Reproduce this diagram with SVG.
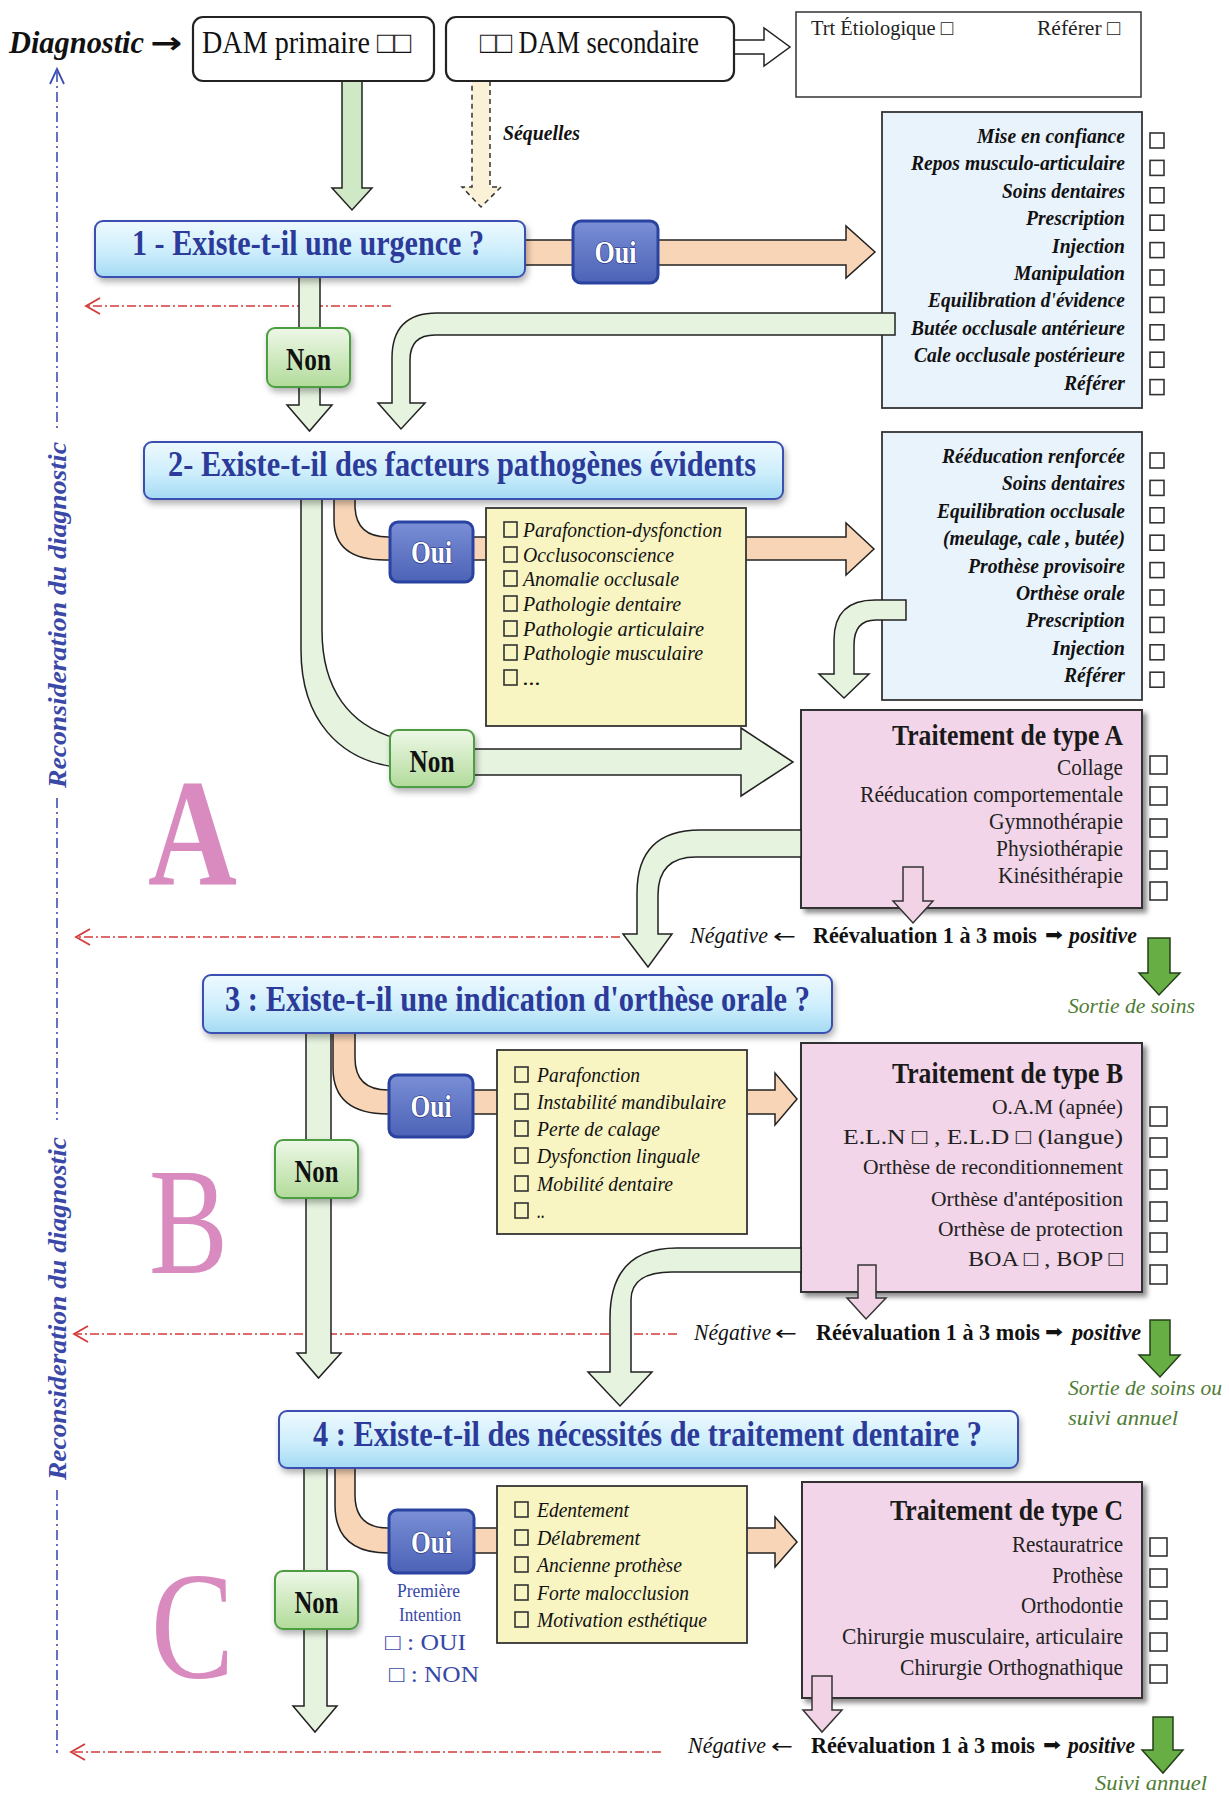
<svg xmlns="http://www.w3.org/2000/svg" width="1229" height="1796" viewBox="0 0 1229 1796">
<defs>
<linearGradient id="gq" x1="0" y1="0" x2="0" y2="1"><stop offset="0" stop-color="#eef9fe"/><stop offset="0.55" stop-color="#cdeefc"/><stop offset="1" stop-color="#a3daf3"/></linearGradient>
<linearGradient id="go" x1="0" y1="0" x2="0" y2="1"><stop offset="0" stop-color="#7a8fd6"/><stop offset="1" stop-color="#4c62b6"/></linearGradient>
<linearGradient id="gn" x1="0" y1="0" x2="0" y2="1"><stop offset="0" stop-color="#eef8e8"/><stop offset="1" stop-color="#b2db9a"/></linearGradient>
<filter id="sh" x="-10%" y="-20%" width="125%" height="160%"><feDropShadow dx="2" dy="4" stdDeviation="3" flood-color="#000" flood-opacity="0.3"/></filter>
<filter id="sh2" x="-5%" y="-5%" width="115%" height="115%"><feDropShadow dx="4" dy="4" stdDeviation="2.5" flood-color="#000" flood-opacity="0.45"/></filter>
</defs>
<style>
text{font-family:'Liberation Serif','Times New Roman',serif}
.q{font-size:35px;font-weight:bold;fill:#2c3a99}
.lb{font-size:21px;font-weight:bold;font-style:italic;text-anchor:end;fill:#111}
.yi{font-size:22px;font-style:italic;fill:#111}
.tt{font-size:30px;font-weight:bold;text-anchor:end;fill:#1a1a1a}
.ti{font-size:24px;text-anchor:end;fill:#222}
.tb{font-size:22px}
.cb{fill:none;stroke:#333;stroke-width:1.6}
.qb{fill:url(#gq);stroke:#3b4fb2;stroke-width:2}
.ob{fill:url(#go);stroke:#2a42a0;stroke-width:3}
.nb{fill:url(#gn);stroke:#4d9e42;stroke-width:2}
.ot{font-size:31px;font-weight:bold;fill:#fff;stroke:#1c2c7a;stroke-width:1.2;paint-order:stroke;text-anchor:middle}
.nt{font-size:31px;font-weight:bold;fill:#111;text-anchor:middle}
.ga{fill:#e6f3df;stroke:#222;stroke-width:1.5}
.oa{fill:#f9d5b7;stroke:#222;stroke-width:1.5}
.pa{fill:#f2d3e6;stroke:#333;stroke-width:1.5}
.da{fill:#67ae45;stroke:#24401a;stroke-width:1.5}
.red{fill:none;stroke:#d43a3a;stroke-width:1.6;stroke-dasharray:9 3 2 3}
.rh{fill:none;stroke:#d43a3a;stroke-width:1.8}
.blu{fill:none;stroke:#3c4fb5;stroke-width:1.6;stroke-dasharray:10 4 2 4}
.yb{fill:#f8f5c2;stroke:#333;stroke-width:1.8}
.bb{fill:#e9f3fc;stroke:#333;stroke-width:1.8}
.pb{fill:#f2d5e8;stroke:#333;stroke-width:2}
.re{font-size:23px;font-weight:bold;fill:#111}
.rp{font-size:23px;font-weight:bold;font-style:italic;fill:#111}
.ar{font-family:'DejaVu Sans',sans-serif;font-size:18px;fill:#111}
.la{font-family:'DejaVu Sans',sans-serif;font-size:20px;fill:#111}
.ng{font-size:23px;font-style:italic;fill:#111}
.so{font-size:22px;font-style:italic;fill:#4f7c35}
.big{font-size:152px;fill:#d98bc0}
.rc{font-size:25px;font-weight:bold;font-style:italic;fill:#3a48a8}
.wb{fill:#fff;stroke:#222;stroke-width:2.2}
.pi{font-size:19px;fill:#3848a8}
.po{font-size:23px;fill:#3848a8}
</style>

<g id="reconsideration">
<line class="blu" x1="57" y1="72" x2="57" y2="432"/>
<line class="blu" x1="57" y1="798" x2="57" y2="1120"/>
<line class="blu" x1="57" y1="1490" x2="57" y2="1753"/>
<polyline fill="none" stroke="#3c4fb5" stroke-width="1.8" points="50,84 57,69 64,84"/>
<text class="rc" x="66" y="788" transform="rotate(-90 66 788)" textLength="346" lengthAdjust="spacingAndGlyphs">Reconsideration du diagnostic</text>
<text class="rc" x="66" y="1480" transform="rotate(-90 66 1480)" textLength="343" lengthAdjust="spacingAndGlyphs">Reconsideration du diagnostic</text>
</g>

<g id="return-lines">
<line class="red" x1="391" y1="306" x2="88" y2="306"/><polyline class="rh" points="100,298 86,306 100,314"/>
<line class="red" x1="620" y1="937" x2="78" y2="937"/><polyline class="rh" points="90,929 76,937 90,945"/>
<line class="red" x1="677" y1="1334" x2="76" y2="1334"/><polyline class="rh" points="88,1326 74,1334 88,1342"/>
<line class="red" x1="661" y1="1752" x2="73" y2="1752"/><polyline class="rh" points="85,1744 71,1752 85,1760"/>
</g>

<g id="letters">
<text class="big" x="148" y="884" font-weight="bold" textLength="89" lengthAdjust="spacingAndGlyphs">A</text>
<text class="big" x="149" y="1273" textLength="79" lengthAdjust="spacingAndGlyphs">B</text>
<text class="big" x="151" y="1678" textLength="83" lengthAdjust="spacingAndGlyphs">C</text>
</g>

<g id="list-urgence">
<rect class="bb" x="882" y="112" width="260" height="296"/>
<text class="lb" x="1125" y="143" textLength="148" lengthAdjust="spacingAndGlyphs">Mise en confiance</text>
<text class="lb" x="1125" y="170.4" textLength="214" lengthAdjust="spacingAndGlyphs">Repos musculo-articulaire</text>
<text class="lb" x="1125" y="197.8" textLength="123" lengthAdjust="spacingAndGlyphs">Soins dentaires</text>
<text class="lb" x="1125" y="225.2" textLength="99" lengthAdjust="spacingAndGlyphs">Prescription</text>
<text class="lb" x="1125" y="252.6" textLength="73" lengthAdjust="spacingAndGlyphs">Injection</text>
<text class="lb" x="1125" y="280" textLength="111" lengthAdjust="spacingAndGlyphs">Manipulation</text>
<text class="lb" x="1125" y="307.4" textLength="197" lengthAdjust="spacingAndGlyphs">Equilibration d'évidence</text>
<text class="lb" x="1125" y="334.8" textLength="214" lengthAdjust="spacingAndGlyphs">Butée occlusale antérieure</text>
<text class="lb" x="1125" y="362.2" textLength="211" lengthAdjust="spacingAndGlyphs">Cale occlusale postérieure</text>
<text class="lb" x="1125" y="389.6" textLength="61" lengthAdjust="spacingAndGlyphs">Référer</text>
<rect class="cb" x="1150" y="133" width="14" height="15"/>
<rect class="cb" x="1150" y="160.4" width="14" height="15"/>
<rect class="cb" x="1150" y="187.8" width="14" height="15"/>
<rect class="cb" x="1150" y="215.2" width="14" height="15"/>
<rect class="cb" x="1150" y="242.6" width="14" height="15"/>
<rect class="cb" x="1150" y="270" width="14" height="15"/>
<rect class="cb" x="1150" y="297.4" width="14" height="15"/>
<rect class="cb" x="1150" y="324.8" width="14" height="15"/>
<rect class="cb" x="1150" y="352.2" width="14" height="15"/>
<rect class="cb" x="1150" y="379.6" width="14" height="15"/>
</g>

<g id="list-pathogenes">
<rect class="bb" x="882" y="432" width="260" height="268"/>
<text class="lb" x="1125" y="463" textLength="183" lengthAdjust="spacingAndGlyphs">Rééducation renforcée</text>
<text class="lb" x="1125" y="490.4" textLength="123" lengthAdjust="spacingAndGlyphs">Soins dentaires</text>
<text class="lb" x="1125" y="517.8" textLength="188" lengthAdjust="spacingAndGlyphs">Equilibration occlusale</text>
<text class="lb" x="1125" y="545.2" textLength="182" lengthAdjust="spacingAndGlyphs">(meulage, cale , butée)</text>
<text class="lb" x="1125" y="572.6" textLength="157" lengthAdjust="spacingAndGlyphs">Prothèse provisoire</text>
<text class="lb" x="1125" y="600" textLength="109" lengthAdjust="spacingAndGlyphs">Orthèse orale</text>
<text class="lb" x="1125" y="627.4" textLength="99" lengthAdjust="spacingAndGlyphs">Prescription</text>
<text class="lb" x="1125" y="654.8" textLength="73" lengthAdjust="spacingAndGlyphs">Injection</text>
<text class="lb" x="1125" y="682.2" textLength="61" lengthAdjust="spacingAndGlyphs">Référer</text>
<rect class="cb" x="1150" y="453" width="14" height="15"/>
<rect class="cb" x="1150" y="480.4" width="14" height="15"/>
<rect class="cb" x="1150" y="507.8" width="14" height="15"/>
<rect class="cb" x="1150" y="535.2" width="14" height="15"/>
<rect class="cb" x="1150" y="562.6" width="14" height="15"/>
<rect class="cb" x="1150" y="590" width="14" height="15"/>
<rect class="cb" x="1150" y="617.4" width="14" height="15"/>
<rect class="cb" x="1150" y="644.8" width="14" height="15"/>
<rect class="cb" x="1150" y="672.2" width="14" height="15"/>
</g>

<g id="type-a">
<rect class="pb" x="801" y="710" width="341" height="198" filter="url(#sh2)"/>
<text class="tt" x="1123" y="745" textLength="231" lengthAdjust="spacingAndGlyphs">Traitement de type A</text>
<text class="ti" x="1123" y="775" textLength="66" lengthAdjust="spacingAndGlyphs">Collage</text>
<text class="ti" x="1123" y="802" textLength="263" lengthAdjust="spacingAndGlyphs">Rééducation comportementale</text>
<text class="ti" x="1123" y="829" textLength="134" lengthAdjust="spacingAndGlyphs">Gymnothérapie</text>
<text class="ti" x="1123" y="856" textLength="127" lengthAdjust="spacingAndGlyphs">Physiothérapie</text>
<text class="ti" x="1123" y="883" textLength="125" lengthAdjust="spacingAndGlyphs">Kinésithérapie</text>
<rect class="cb" x="1150" y="756" width="17" height="18"/>
<rect class="cb" x="1150" y="787" width="17" height="18"/>
<rect class="cb" x="1150" y="819" width="17" height="18"/>
<rect class="cb" x="1150" y="851" width="17" height="18"/>
<rect class="cb" x="1150" y="882" width="17" height="18"/>
</g>

<g id="type-b">
<rect class="pb" x="801" y="1043" width="341" height="249" filter="url(#sh2)"/>
<text class="tt" x="1123" y="1083" textLength="231" lengthAdjust="spacingAndGlyphs">Traitement de type B</text>
<text class="ti tb" x="1123" y="1114" textLength="131" lengthAdjust="spacingAndGlyphs">O.A.M (apnée)</text>
<text class="ti tb" x="1123" y="1144" textLength="280" lengthAdjust="spacingAndGlyphs">E.L.N  □ , E.L.D  □ (langue)</text>
<text class="ti tb" x="1123" y="1174" textLength="260" lengthAdjust="spacingAndGlyphs">Orthèse de reconditionnement</text>
<text class="ti tb" x="1123" y="1206" textLength="192" lengthAdjust="spacingAndGlyphs">Orthèse d'antéposition</text>
<text class="ti tb" x="1123" y="1236" textLength="185" lengthAdjust="spacingAndGlyphs">Orthèse de protection</text>
<text class="ti tb" x="1123" y="1266" textLength="155" lengthAdjust="spacingAndGlyphs">BOA □ , BOP □</text>
<rect class="cb" x="1150" y="1107" width="17" height="19"/>
<rect class="cb" x="1150" y="1138" width="17" height="19"/>
<rect class="cb" x="1150" y="1170" width="17" height="19"/>
<rect class="cb" x="1150" y="1202" width="17" height="19"/>
<rect class="cb" x="1150" y="1233" width="17" height="19"/>
<rect class="cb" x="1150" y="1265" width="17" height="19"/>
</g>

<g id="type-c">
<rect class="pb" x="802" y="1482" width="340" height="216" filter="url(#sh2)"/>
<text class="tt" x="1123" y="1520" textLength="233" lengthAdjust="spacingAndGlyphs">Traitement de type C</text>
<text class="ti" x="1123" y="1552" textLength="111" lengthAdjust="spacingAndGlyphs">Restauratrice</text>
<text class="ti" x="1123" y="1583" textLength="71" lengthAdjust="spacingAndGlyphs">Prothèse</text>
<text class="ti" x="1123" y="1613" textLength="102" lengthAdjust="spacingAndGlyphs">Orthodontie</text>
<text class="ti" x="1123" y="1644" textLength="281" lengthAdjust="spacingAndGlyphs">Chirurgie musculaire, articulaire</text>
<text class="ti" x="1123" y="1675" textLength="223" lengthAdjust="spacingAndGlyphs">Chirurgie Orthognathique</text>
<rect class="cb" x="1150" y="1538" width="17" height="18"/>
<rect class="cb" x="1150" y="1569" width="17" height="18"/>
<rect class="cb" x="1150" y="1601" width="17" height="18"/>
<rect class="cb" x="1150" y="1633" width="17" height="18"/>
<rect class="cb" x="1150" y="1665" width="17" height="18"/>
</g>

<g id="connectors">
<polygon fill="#cfe8c6" stroke="#222" stroke-width="1.5" points="342,81 362,81 362,188 372,188 352,210 332,188 342,188"/>
<polygon fill="#faf1d6" stroke="#333" stroke-width="1.5" stroke-dasharray="5 4" points="472,81 490,81 490,187 501,187 481,207 462,187 472,187"/>
<polygon fill="#fff" stroke="#222" stroke-width="1.5" points="709,40 764,40 764,28 790,47 764,66 764,54 709,54"/>
<polygon class="oa" points="520,240 846,240 846,226 875,252 846,278 846,265 520,265"/>
<polygon class="ga" points="299,275 320,275 320,405 332,405 309.5,431 287,405 299,405"/>
<path class="ga" d="M895,313 H437 Q392,313 392,358 V403 H378 L401,429 L425,403 H410 V360 Q410,335 435,335 H895 Z"/>
<path class="ga" d="M301,499 H322 V630 C322,690 350,725 395,738 V767 C340,760 301,720 301,650 Z"/>
<polygon class="ga" points="470,749 741,749 741,728 793,762 741,796 741,775 470,775"/>
<path class="oa" d="M334,499 H355 V505 Q355,537 388,537 H846 V523 L874,549 L846,575 V560 H385 Q334,560 334,520 Z"/>
<path class="ga" d="M906,600 H875 Q834,600 834,640 V674 H819 L844,698 L869,674 H854 V645 Q854,620 876,620 H906 Z"/>
<path class="ga" d="M801,830 H700 Q637,830 637,893 V934 H623 L648,967 L672,934 H658 V895 Q658,857 696,857 H801 Z"/>
<polygon class="pa" points="903,867 923,867 923,901 933,901 913,923 893,901 903,901"/>
<polygon class="da" points="1148,938 1170,938 1170,973 1180,973 1159,995 1139,973 1148,973"/>
<polygon class="ga" points="306,1031 331,1031 331,1353 341,1353 318.5,1378 297,1353 306,1353"/>
<path class="oa" d="M333,1031 H355 V1058 Q355,1090 388,1090 H775 V1073 L797,1099 L775,1125 V1114 H388 Q333,1114 333,1068 Z"/>
<path class="ga" d="M801,1248 H677 Q610,1248 610,1318 V1372 H588 L620,1406 L652,1372 H631 V1300 Q631,1272 672,1272 H801 Z"/>
<polygon class="pa" points="858,1265 876,1265 876,1298 886,1298 866,1319 847,1298 858,1298"/>
<polygon class="da" points="1150,1320 1170,1320 1170,1355 1180,1355 1160,1377 1139,1355 1150,1355"/>
<polygon class="ga" points="304,1466 327,1466 327,1706 337,1706 315,1732 293,1706 304,1706"/>
<path class="oa" d="M335,1466 H355 V1495 Q355,1528 388,1528 H775 V1517 L797,1542 L775,1567 V1553 H388 Q335,1553 335,1505 Z"/>
<polygon class="pa" points="812,1676 832,1676 832,1710 842,1710 822,1732 803,1710 812,1710"/>
<polygon class="da" points="1153,1717 1173,1717 1173,1750 1183,1750 1163,1773 1142,1750 1153,1750"/>
</g>

<g id="diagnostic">
<text x="9" y="53" font-size="32" font-weight="bold" font-style="italic" fill="#111" textLength="135" lengthAdjust="spacingAndGlyphs">Diagnostic</text>
<text x="150" y="53" style="font-family:'DejaVu Sans',sans-serif" font-size="30" font-weight="bold" fill="#111" textLength="32" lengthAdjust="spacingAndGlyphs">→</text>
</g>
<g id="dam-primaire">
<rect class="wb" x="193" y="17" width="241" height="64" rx="10"/>
<text x="202" y="53" font-size="31" fill="#111" textLength="209" lengthAdjust="spacingAndGlyphs">DAM primaire □□</text>
</g>
<g id="dam-secondaire">
<rect class="wb" x="446" y="17" width="288" height="64" rx="10"/>
<text x="480" y="53" font-size="31" fill="#111" textLength="219" lengthAdjust="spacingAndGlyphs">□□ DAM secondaire</text>
</g>
<g id="etiologique">
<rect fill="#fff" stroke="#333" stroke-width="1.5" x="796" y="12" width="345" height="85"/>
<text x="811" y="35" font-size="21" fill="#222" textLength="142" lengthAdjust="spacingAndGlyphs">Trt Étiologique □</text>
<text x="1037" y="35" font-size="21" fill="#222" textLength="83" lengthAdjust="spacingAndGlyphs">Référer □</text>
</g>
<g id="sequelles">
<text x="503" y="140" font-size="21" font-weight="bold" font-style="italic" fill="#111" textLength="77" lengthAdjust="spacingAndGlyphs">Séquelles</text>
</g>

<g id="q1">
<rect class="qb" x="95" y="221" width="430" height="56" rx="8" filter="url(#sh)"/>
<text class="q" x="132" y="255" textLength="352" lengthAdjust="spacingAndGlyphs">1 - Existe-t-il une urgence ?</text>
</g>
<g id="oui1"><rect class="ob" x="573" y="221" width="85" height="62" rx="8"/><text class="ot" x="615.5" y="263" textLength="42" lengthAdjust="spacingAndGlyphs">Oui</text></g>
<g id="non1"><rect class="nb" x="267" y="328" width="83" height="59" rx="8" filter="url(#sh)"/><text class="nt" x="308.5" y="370" textLength="45" lengthAdjust="spacingAndGlyphs">Non</text></g>

<g id="q2">
<rect class="qb" x="144" y="442" width="639" height="57" rx="8" filter="url(#sh)"/>
<text class="q" x="168" y="476" textLength="588" lengthAdjust="spacingAndGlyphs">2- Existe-t-il des facteurs pathogènes évidents</text>
</g>
<g id="oui2"><rect class="ob" x="390" y="522" width="83" height="60" rx="8"/><text class="ot" x="431.5" y="563" textLength="41" lengthAdjust="spacingAndGlyphs">Oui</text></g>
<g id="facteurs">
<rect class="yb" x="486" y="508" width="260" height="218"/>
<rect class="cb" x="504" y="522" width="13" height="15"/><text class="yi" x="523" y="537" textLength="199" lengthAdjust="spacingAndGlyphs">Parafonction-dysfonction</text>
<rect class="cb" x="504" y="547" width="13" height="15"/><text class="yi" x="523" y="562" textLength="151" lengthAdjust="spacingAndGlyphs">Occlusoconscience</text>
<rect class="cb" x="504" y="571" width="13" height="15"/><text class="yi" x="523" y="586" textLength="156" lengthAdjust="spacingAndGlyphs">Anomalie occlusale</text>
<rect class="cb" x="504" y="596" width="13" height="15"/><text class="yi" x="523" y="611" textLength="158" lengthAdjust="spacingAndGlyphs">Pathologie dentaire</text>
<rect class="cb" x="504" y="621" width="13" height="15"/><text class="yi" x="523" y="636" textLength="181" lengthAdjust="spacingAndGlyphs">Pathologie  articulaire</text>
<rect class="cb" x="504" y="645" width="13" height="15"/><text class="yi" x="523" y="660" textLength="180" lengthAdjust="spacingAndGlyphs">Pathologie musculaire</text>
<rect class="cb" x="504" y="670" width="13" height="15"/><text class="yi" x="523" y="685" textLength="18" lengthAdjust="spacingAndGlyphs">...</text>
</g>
<g id="non2"><rect class="nb" x="390" y="730" width="84" height="57" rx="8" filter="url(#sh)"/><text class="nt" x="432" y="772" textLength="45" lengthAdjust="spacingAndGlyphs">Non</text></g>

<g id="reeval-a">
<text class="ng" x="690" y="943" textLength="78" lengthAdjust="spacingAndGlyphs">Négative</text>
<text class="la" x="773" y="943" textLength="23" lengthAdjust="spacingAndGlyphs">←</text>
<text class="re" x="813" y="943" textLength="224" lengthAdjust="spacingAndGlyphs">Réévaluation 1 à 3  mois</text>
<text class="ar" x="1045" y="941" textLength="18" lengthAdjust="spacingAndGlyphs">➡</text>
<text class="rp" x="1069" y="943" textLength="68" lengthAdjust="spacingAndGlyphs">positive</text>
<text class="so" x="1068" y="1013" textLength="127" lengthAdjust="spacingAndGlyphs">Sortie de soins</text>
</g>

<g id="q3">
<rect class="qb" x="203" y="975" width="629" height="58" rx="8" filter="url(#sh)"/>
<text class="q" x="225" y="1011" textLength="585" lengthAdjust="spacingAndGlyphs">3 : Existe-t-il une indication d'orthèse orale ?</text>
</g>
<g id="oui3"><rect class="ob" x="389" y="1075" width="84" height="62" rx="8"/><text class="ot" x="431" y="1117" textLength="41" lengthAdjust="spacingAndGlyphs">Oui</text></g>
<g id="indications">
<rect class="yb" x="497" y="1050" width="250" height="184"/>
<rect class="cb" x="515" y="1067" width="13" height="15"/><text class="yi" x="537" y="1082" textLength="103" lengthAdjust="spacingAndGlyphs">Parafonction</text>
<rect class="cb" x="515" y="1094" width="13" height="15"/><text class="yi" x="537" y="1109" textLength="189" lengthAdjust="spacingAndGlyphs">Instabilité mandibulaire</text>
<rect class="cb" x="515" y="1121" width="13" height="15"/><text class="yi" x="537" y="1136" textLength="123" lengthAdjust="spacingAndGlyphs">Perte de calage</text>
<rect class="cb" x="515" y="1148" width="13" height="15"/><text class="yi" x="537" y="1163" textLength="163" lengthAdjust="spacingAndGlyphs">Dysfonction linguale</text>
<rect class="cb" x="515" y="1176" width="13" height="15"/><text class="yi" x="537" y="1191" textLength="136" lengthAdjust="spacingAndGlyphs">Mobilité dentaire</text>
<rect class="cb" x="515" y="1203" width="13" height="15"/><text class="yi" x="537" y="1218" textLength="8" lengthAdjust="spacingAndGlyphs">..</text>
</g>
<g id="non3"><rect class="nb" x="275" y="1140" width="83" height="58" rx="8" filter="url(#sh)"/><text class="nt" x="316.5" y="1182" textLength="44" lengthAdjust="spacingAndGlyphs">Non</text></g>

<g id="reeval-b">
<text class="ng" x="694" y="1340" textLength="77" lengthAdjust="spacingAndGlyphs">Négative</text>
<text class="la" x="775" y="1340" textLength="22" lengthAdjust="spacingAndGlyphs">←</text>
<text class="re" x="816" y="1340" textLength="224" lengthAdjust="spacingAndGlyphs">Réévaluation 1 à 3  mois</text>
<text class="ar" x="1045" y="1338" textLength="18" lengthAdjust="spacingAndGlyphs">➡</text>
<text class="rp" x="1072" y="1340" textLength="69" lengthAdjust="spacingAndGlyphs">positive</text>
<text class="so" x="1068" y="1395" textLength="154" lengthAdjust="spacingAndGlyphs">Sortie de soins ou</text>
<text class="so" x="1068" y="1425" textLength="110" lengthAdjust="spacingAndGlyphs">suivi  annuel</text>
</g>

<g id="q4">
<rect class="qb" x="279" y="1411" width="739" height="57" rx="8" filter="url(#sh)"/>
<text class="q" x="313" y="1446" textLength="669" lengthAdjust="spacingAndGlyphs">4 : Existe-t-il des nécessités de traitement dentaire ?</text>
</g>
<g id="oui4">
<rect class="ob" x="389" y="1510" width="85" height="63" rx="8"/><text class="ot" x="431.5" y="1553" textLength="41" lengthAdjust="spacingAndGlyphs">Oui</text>
<text class="pi" x="397" y="1597" textLength="63" lengthAdjust="spacingAndGlyphs">Première</text>
<text class="pi" x="399" y="1621" textLength="62" lengthAdjust="spacingAndGlyphs">Intention</text>
<text class="po" x="385" y="1650" textLength="81" lengthAdjust="spacingAndGlyphs">□ : OUI</text>
<text class="po" x="389" y="1682" textLength="90" lengthAdjust="spacingAndGlyphs">□ : NON</text>
</g>
<g id="necessites">
<rect class="yb" x="497" y="1486" width="250" height="157"/>
<rect class="cb" x="515" y="1502" width="13" height="15"/><text class="yi" x="537" y="1517" textLength="92" lengthAdjust="spacingAndGlyphs">Edentement</text>
<rect class="cb" x="515" y="1530" width="13" height="15"/><text class="yi" x="537" y="1545" textLength="103" lengthAdjust="spacingAndGlyphs">Délabrement</text>
<rect class="cb" x="515" y="1557" width="13" height="15"/><text class="yi" x="537" y="1572" textLength="145" lengthAdjust="spacingAndGlyphs">Ancienne prothèse</text>
<rect class="cb" x="515" y="1585" width="13" height="15"/><text class="yi" x="537" y="1600" textLength="152" lengthAdjust="spacingAndGlyphs">Forte malocclusion</text>
<rect class="cb" x="515" y="1612" width="13" height="15"/><text class="yi" x="537" y="1627" textLength="170" lengthAdjust="spacingAndGlyphs">Motivation esthétique</text>
</g>
<g id="non4"><rect class="nb" x="275" y="1571" width="83" height="58" rx="8" filter="url(#sh)"/><text class="nt" x="316.5" y="1613" textLength="44" lengthAdjust="spacingAndGlyphs">Non</text></g>

<g id="reeval-c">
<text class="ng" x="688" y="1753" textLength="78" lengthAdjust="spacingAndGlyphs">Négative</text>
<text class="la" x="771" y="1753" textLength="22" lengthAdjust="spacingAndGlyphs">←</text>
<text class="re" x="811" y="1753" textLength="224" lengthAdjust="spacingAndGlyphs">Réévaluation 1 à 3  mois</text>
<text class="ar" x="1043" y="1751" textLength="18" lengthAdjust="spacingAndGlyphs">➡</text>
<text class="rp" x="1068" y="1753" textLength="67" lengthAdjust="spacingAndGlyphs">positive</text>
<text class="so" x="1095" y="1790" textLength="112" lengthAdjust="spacingAndGlyphs">Suivi  annuel</text>
</g>
</svg>
